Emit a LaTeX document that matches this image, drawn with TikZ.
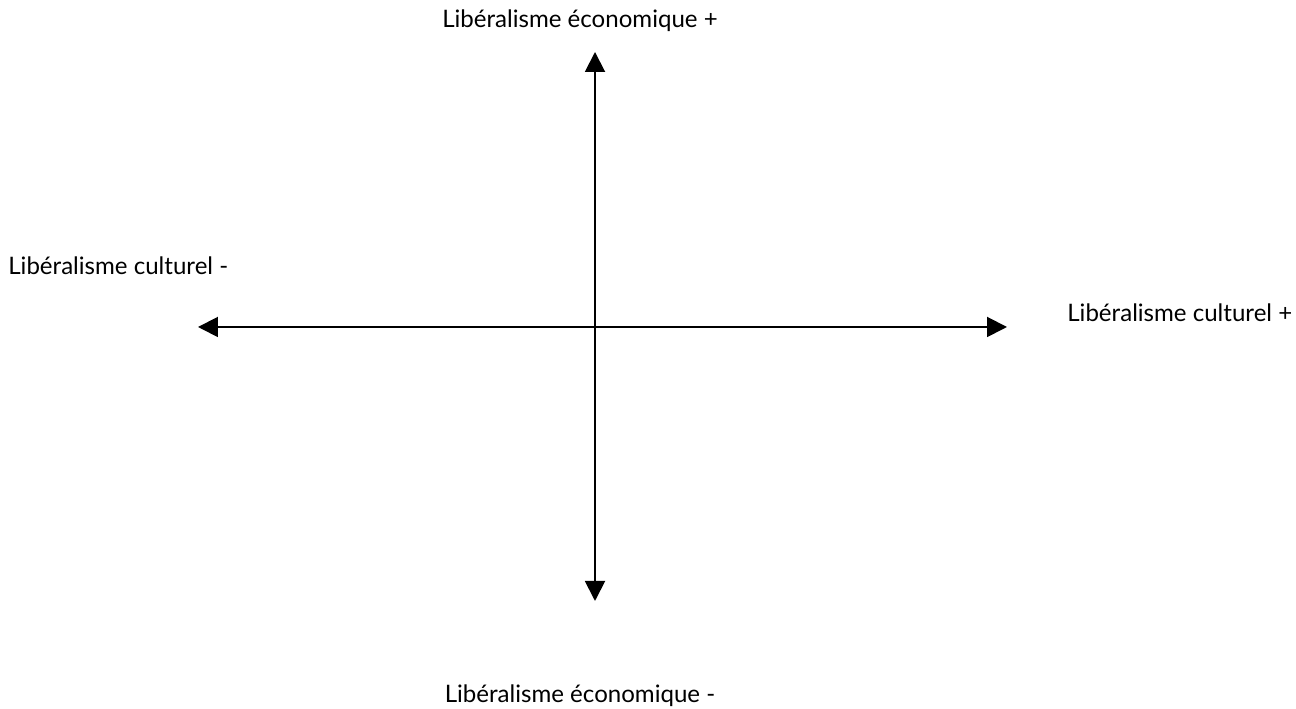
\documentclass[tikz,border=0pt]{standalone}
\usepackage{fontspec}
\setmainfont{Lato}
\usepackage{tikz}
\usetikzlibrary{arrows.meta}
\tikzset{
  ax/label/.style={font=\fontsize{13.7}{16.5}\selectfont, inner sep=0pt},
  ax/arr/.style={{Triangle[length=0.4cm,width=0.4cm]}-{Triangle[length=0.4cm,width=0.4cm]}, line width=1.1pt, black}
}
\begin{document}
\begin{tikzpicture}[x=0.02cm, y=0.02cm]
  \useasboundingbox (0,0) rectangle (1296,709);

  % --- Axes ---
  \coordinate (top) at (595,657);
  \coordinate (bottom) at (595,108);
  \coordinate (west) at (198,382);
  \coordinate (east) at (1007,382);
  \draw[ax/arr] (bottom) -- (top);
  \draw[ax/arr] (west) -- (east);

  % --- Pôles ---
  \node[ax/label, anchor=base] (ecoplus) at (580,681) {Libéralisme économique +};
  \node[ax/label, anchor=base] (ecomoins) at (580,6) {Libéralisme économique -};
  \node[ax/label, anchor=base west] (culmoins) at (8,434) {Libéralisme culturel -};
  \node[ax/label, anchor=base west] (culplus) at (1067,387) {Libéralisme culturel +};
\end{tikzpicture}
\end{document}
